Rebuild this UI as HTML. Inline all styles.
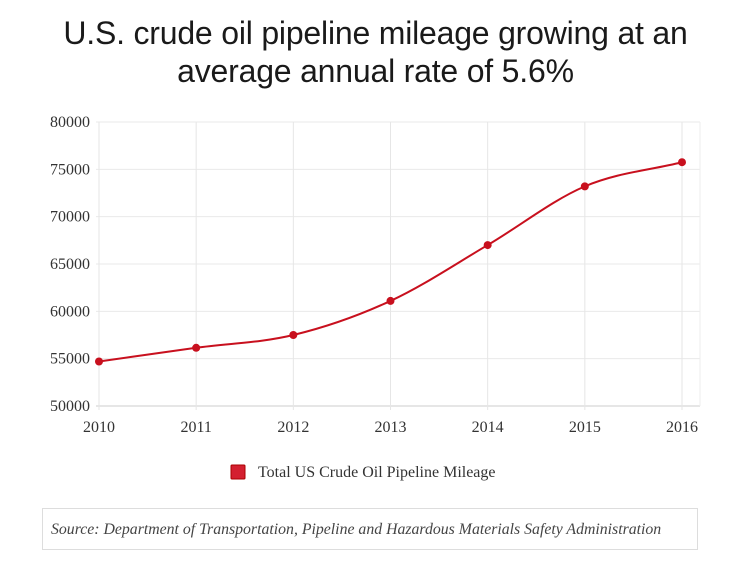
<!DOCTYPE html>
<html><head><meta charset="utf-8"><style>
body{margin:0;width:751px;height:567px;background:#fff;overflow:hidden;position:relative;font-family:"Liberation Serif",serif}
#title{position:absolute;left:0;top:14px;width:751px;text-align:center;font-family:"Liberation Sans",sans-serif;font-size:32px;line-height:38px;color:#1a1a1a;font-weight:300;letter-spacing:-0.2px}
#src{position:absolute;left:42px;top:508px;width:656px;height:42px;border:1px solid #ddd;box-sizing:border-box;font-style:italic;font-size:15.8px;color:#444;line-height:42px;padding-left:8px;white-space:nowrap}
</style></head><body>
<div id="title">U.S. crude oil pipeline mileage growing at an<br>average annual rate of 5.6%</div>
<svg id="chart" width="751" height="500" style="position:absolute;left:0;top:0"></svg>
<div id="src">Source: Department of Transportation, Pipeline and Hazardous Materials Safety Administration</div>
<script>
const years=[2010,2011,2012,2013,2014,2015,2016];
const mileage=[54700,56150,57500,61100,67000,73200,75750];
const yTicks=[50000,55000,60000,65000,70000,75000,80000];
const seriesName="Total US Crude Oil Pipeline Mileage";
const svg=document.getElementById('chart');const NS='http://www.w3.org/2000/svg';
function mk(t,a,p){const e=document.createElementNS(NS,t);for(const k in a)e.setAttribute(k,a[k]);(p||svg).appendChild(e);return e;}
const L=99,R=682,T=122,B=406;
const x=i=>L+(R-L)*i/(years.length-1);
const y=v=>B-(v-50000)/30000*(B-T);
let e;
yTicks.forEach(v=>{
 e=mk('line',{x1:96,x2:700,y1:y(v),y2:y(v),stroke:v===50000?'#ccc':'#eaeaea'});
 
 e=mk('text',{x:90,y:y(v)+5,'text-anchor':'end','font-size':16,fill:'#333'});e.textContent=v;
 
});
years.forEach((yr,i)=>{
 e=mk('line',{x1:x(i),x2:x(i),y1:T,y2:B+4,stroke:'#e6e6e6'});
 
 e=mk('text',{x:x(i),y:432,'text-anchor':'middle','font-size':16,fill:'#333'});e.textContent=yr;
 
});
e=mk('line',{x1:700,x2:700,y1:T,y2:B,stroke:'#eee'});

const px=years.map((_,i)=>x(i)),py=mileage.map(y),n=px.length;
const d=[],m=[];for(let i=0;i<n-1;i++)d.push((py[i+1]-py[i])/(px[i+1]-px[i]));
m[0]=d[0];m[n-1]=d[n-2];for(let i=1;i<n-1;i++)m[i]=d[i-1]*d[i]<=0?0:(d[i-1]+d[i])/2;
let p=`M${px[0]},${py[0]}`;
for(let i=0;i<n-1;i++){const h=(px[i+1]-px[i])/3;p+=` C${px[i]+h},${py[i]+m[i]*h} ${px[i+1]-h},${py[i+1]-m[i+1]*h} ${px[i+1]},${py[i+1]}`;}
e=mk('path',{d:p,fill:'none',stroke:'#c8101e','stroke-width':2});

mileage.forEach((v,i)=>{e=mk('circle',{cx:x(i),cy:y(v),r:4,fill:'#c8101e'});
 });
const g=mk('g',{});
e=mk('rect',{x:231,y:465,width:14,height:14,fill:'#d42030',stroke:'#a00',rx:1},g);

e=mk('text',{x:258,y:477,'font-size':16,fill:'#333'},g);e.textContent=seriesName;

</script>
</body></html>
